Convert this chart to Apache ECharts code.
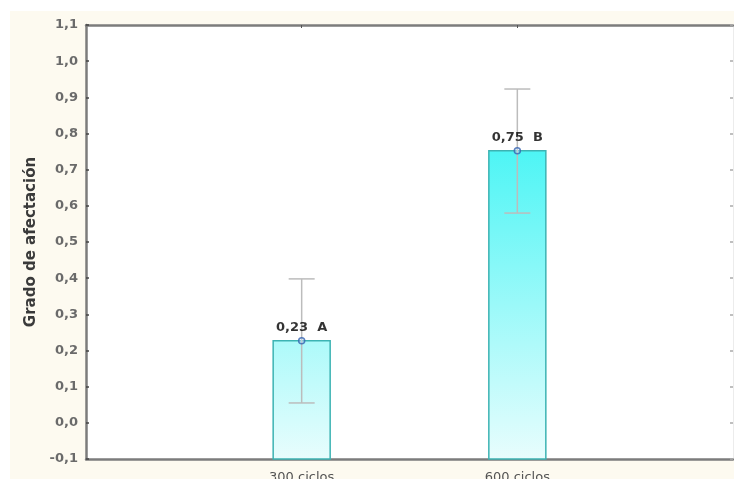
<!DOCTYPE html>
<html>
<head>
<meta charset="utf-8">
<script src="https://cdn.jsdelivr.net/npm/echarts@6/dist/echarts.min.js"></script>
<style>
html,body{margin:0;padding:0;background:#fff;}
#chart{width:734px;height:479px;}
</style>
</head>
<body>
<div id="chart"></div>
<script>
// ---- data ----
const categories = ['300 ciclos', '600 ciclos'];
const positions = [1, 2];
const means = [0.227, 0.752];
const errLow = [0.055, 0.58];
const errHigh = [0.398, 0.923];
const letters = ['A', 'B'];
const yTicks = [-0.1, 0, 0.1, 0.2, 0.3, 0.4, 0.5, 0.6, 0.7, 0.8, 0.9, 1.0, 1.1];
const yAxisName = 'Grado de afectación';

const fmt = (v, d) => v.toFixed(d).replace('.', ',');

const chart = echarts.init(document.getElementById('chart'), null, {renderer: 'canvas'});

const barData = positions.map((p, i) => [p, means[i]]);
const errData = positions.map((p, i) => [p, errLow[i], errHigh[i]]);
const pointData = positions.map((p, i) => [p, means[i], letters[i]]);

const fill = new echarts.graphic.LinearGradient(0, 151, 0, 459, [
  {offset: 0, color: '#4ef5f5'},
  {offset: 1, color: '#e8fdfd'}
], true);

const FONT = 'DejaVu Sans';

chart.setOption({
  backgroundColor: '#ffffff',
  animation: false,
  graphic: [{
    type: 'rect', z: -100, silent: true,
    shape: {x: 10, y: 11, width: 724, height: 468},
    style: {fill: '#fdfaf0'}
  }],
  grid: {left: 86, top: 25, right: 1, bottom: 20, show: true, backgroundColor: '#ffffff', borderWidth: 0,
         containLabel: false, outerBoundsMode: 'none'},
  xAxis: [{
    type: 'value', min: 0, max: 3, interval: 1, position: 'bottom',
    splitLine: {show: false},
    axisLine: {show: true, onZero: false, lineStyle: {color: '#7c7c7c', width: 2.5}},
    axisTick: {show: true, inside: true, length: 3, customValues: positions, lineStyle: {color: '#333', width: 1.5}},
    axisLabel: {
      customValues: positions,
      margin: 12,
      color: '#555', fontFamily: FONT, fontSize: 13,
      formatter: v => { const i = positions.indexOf(v); return i >= 0 ? categories[i] : ''; }
    }
  }, {
    type: 'value', min: 0, max: 3, interval: 1, position: 'top',
    splitLine: {show: false},
    axisLine: {show: true, onZero: false, lineStyle: {color: '#7c7c7c', width: 2.5}},
    axisTick: {show: true, inside: true, length: 3, customValues: positions, lineStyle: {color: '#555', width: 1}},
    axisLabel: {show: false}
  }],
  yAxis: [{
    type: 'value', min: -0.1, max: 1.1, interval: 0.1, position: 'left',
    name: yAxisName, nameLocation: 'middle', nameGap: 42, nameRotate: 90,
    nameTextStyle: {fontFamily: FONT, fontSize: 15, fontWeight: 'bold', color: '#3a3a3a'},
    splitLine: {show: false},
    axisLine: {show: true, onZero: false, lineStyle: {color: '#7c7c7c', width: 2.5}},
    axisTick: {show: true, inside: true, length: 3, customValues: yTicks, lineStyle: {color: '#444', width: 1.5}},
    axisLabel: {
      customValues: yTicks,
      margin: 8, color: '#6a6a6a', fontFamily: FONT, fontSize: 13, fontWeight: 'bold',
      formatter: v => fmt(v, 1)
    }
  }, {
    type: 'value', min: -0.1, max: 1.1, interval: 0.1, position: 'right',
    splitLine: {show: false},
    axisLine: {show: true, onZero: false, lineStyle: {color: '#ececec', width: 1}},
    axisTick: {show: true, inside: true, length: 3, lineStyle: {color: '#aaa', width: 1.5}},
    axisLabel: {show: false}
  }],
  series: [{
    type: 'custom',
    name: 'bars',
    xAxisIndex: 0, yAxisIndex: 0,
    data: barData,
    z: 2,
    renderItem: (params, api) => {
      const top = api.coord([api.value(0), api.value(1)]);
      const bottom = api.coord([api.value(0), -0.1]);
      const w = 57;
      return {
        type: 'rect',
        shape: {x: top[0] - w / 2, y: top[1], width: w, height: bottom[1] - top[1]},
        style: {fill: fill, stroke: '#3cb3b3', lineWidth: 1.5}
      };
    }
  }, {
    type: 'custom',
    name: 'errors',
    xAxisIndex: 0, yAxisIndex: 0,
    data: errData,
    z: 3,
    renderItem: (params, api) => {
      const lo = api.coord([api.value(0), api.value(1)]);
      const hi = api.coord([api.value(0), api.value(2)]);
      const cw = 13;
      const st = {stroke: '#bcbcbc', lineWidth: 1.5};
      return {
        type: 'group',
        children: [
          {type: 'line', shape: {x1: lo[0], y1: lo[1], x2: hi[0], y2: hi[1]}, style: st},
          {type: 'line', shape: {x1: lo[0] - cw, y1: lo[1], x2: lo[0] + cw, y2: lo[1]}, style: st},
          {type: 'line', shape: {x1: hi[0] - cw, y1: hi[1], x2: hi[0] + cw, y2: hi[1]}, style: st}
        ]
      };
    }
  }, {
    type: 'scatter',
    name: 'means',
    xAxisIndex: 0, yAxisIndex: 0,
    data: pointData,
    z: 4,
    symbol: 'circle', symbolSize: 6,
    itemStyle: {color: 'rgba(200,230,255,0.5)', borderColor: '#3462b0', borderWidth: 1.5},
    label: {
      show: true, position: 'top', distance: 3,
      fontFamily: FONT, fontSize: 13, fontWeight: 'bold', color: '#000',
      formatter: p => fmt(p.data[1], 2) + '  ' + p.data[2]
    }
  }]
});
</script>
</body>
</html>
